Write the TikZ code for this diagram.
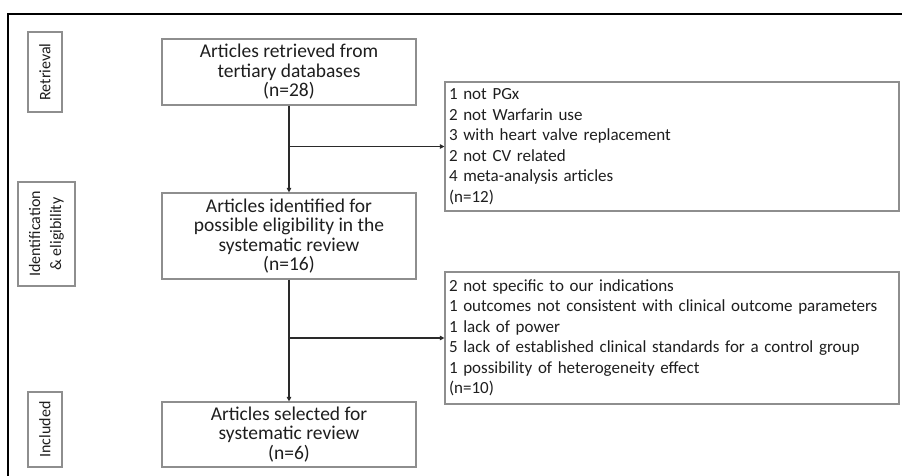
\documentclass[tikz,border=0pt]{standalone}
\usepackage{fontspec}
\setmainfont{Carlito}
\usepackage{tikz}
\usetikzlibrary{arrows.meta,positioning}
\definecolor{Ink}{HTML}{1E1E1E}
\definecolor{Frame}{HTML}{8E8E8E}
\definecolor{Flow}{HTML}{2A2A2A}

\begin{document}
\begin{tikzpicture}[x=1pt,y=-1pt,
  stage/.style={draw=Frame,line width=1.2pt,text=Ink,align=center,
    minimum width=254pt,inner sep=0pt,font=\fontsize{19.5}{19.5}\selectfont},
  excl/.style={draw=Frame,line width=1.2pt,text=Ink,align=left,
    minimum width=454pt,text width=446pt,inner sep=0pt,
    font=\fontsize{17}{20.5}\selectfont},
  phase/.style={draw=Frame,line width=1.2pt,text=Ink,align=center,rotate=90,
    inner sep=0pt,font=\fontsize{16}{21}\selectfont},
  flow/.style={draw=Flow,line width=1.5pt,-{Triangle[length=4.5pt,width=4.5pt]}}]
  \useasboundingbox (0,0) rectangle (902,475);
  \draw[line width=2.5pt] (8,476) -- (8,14) -- (903,14);
  % phases
  \node[phase,minimum width=80pt,minimum height=34pt] (ret) at (45,72) {Retrieval};
  \node[phase,minimum width=104pt,minimum height=57pt] (ide) at (46.5,234)
    {Identification\\\& eligibility};
  \node[phase,minimum width=75pt,minimum height=34pt] (inc) at (45,429.5) {Included};
  % main flow
  \node[stage,minimum height=66pt] (retr) at (289,72)
    {Articles retrieved from\\tertiary databases\\(n=28)};
  \node[stage,minimum height=86pt] (ident) at (289,236)
    {Articles identified for\\possible eligibility in the\\systematic review\\(n=16)};
  \node[stage,minimum height=65pt] (sel) at (289,434.5)
    {Articles selected for\\systematic review\\(n=6)};
  % exclusions
  \node[excl,minimum height=129pt] (exA) at (672,146.5)
    {1 not PGx\\2 not Warfarin use\\3 with heart valve replacement\\2 not CV related\\4 meta-analysis articles\\(n=12)};
  \node[excl,minimum height=132pt] (exB) at (672,338)
    {2 not specific to our indications\\1 outcomes not consistent with clinical outcome parameters\\1 lack of power\\5 lack of established clinical standards for a control group\\1 possibility of heterogeneity effect\\(n=10)};
  \draw[flow] (retr) -- (ident);
  \draw[flow] (ident) -- (sel);
  \draw[flow] (retr.south |- exA.west) -- (exA.west);
  \draw[flow] (ident.south |- exB.west) -- (exB.west);
\end{tikzpicture}
\end{document}
